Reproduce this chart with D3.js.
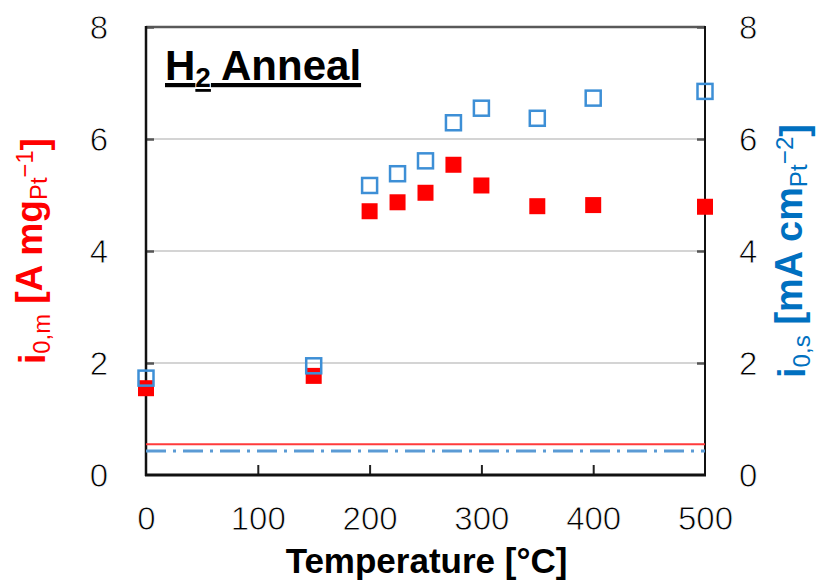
<!DOCTYPE html>
<html>
<head>
<meta charset="utf-8">
<script src="https://cdn.jsdelivr.net/npm/d3@7"></script>
<style>
  html, body { margin: 0; padding: 0; background: #fff; }
  svg { display: block; }
  text { font-family: "Liberation Sans", Arial, sans-serif; }
</style>
</head>
<body>
<svg id="chart" width="817" height="583"></svg>
<script>
// ---- data ----
const temperatures = [0, 150, 200, 225, 250, 275, 300, 350, 400, 500];
const massActivity = [1.55, 1.77, 4.71, 4.87, 5.04, 5.54, 5.17, 4.80, 4.82, 4.79];
const specificActivity = [1.73, 1.95, 5.17, 5.38, 5.61, 6.29, 6.55, 6.37, 6.73, 6.85];
const massBaseline = 0.55;
const specificBaseline = 0.43;
const xTicks = [0, 100, 200, 300, 400, 500];
const yTicks = [0, 2, 4, 6, 8];

const svg = d3.select("#chart");
const m = { left: 146, right: 705, top: 27, bottom: 475 };
const x = d3.scaleLinear().domain([0, 500]).range([m.left, m.right]);
const yL = d3.scaleLinear().domain([0, 8]).range([m.bottom, m.top]);
const yR = d3.scaleLinear().domain([0, 8]).range([m.bottom, m.top]);

const red = "#ff0000";
const blueMk = "#3d8fd6";
const blueLine = "#5b9bd5";
const blueLbl = "#0070c0";

// gridlines
svg.append("g").selectAll("line").data([2, 4, 6]).join("line")
  .attr("x1", m.left).attr("x2", m.right)
  .attr("y1", d => yL(d)).attr("y2", d => yL(d))
  .attr("stroke", "#d4d4d4").attr("stroke-width", 2);
// top border
svg.append("line").attr("x1", m.left).attr("x2", m.right)
  .attr("y1", yL(8)).attr("y2", yL(8)).attr("stroke", "#595959").attr("stroke-width", 2.5);

// axes
const leftAxis = d3.axisLeft(yL).tickValues(yTicks).tickSize(-8).tickPadding(38).tickFormat(d3.format("d"));
const gL = svg.append("g").attr("transform", `translate(${m.left},0)`).call(leftAxis);
const rightAxis = d3.axisRight(yR).tickValues(yTicks).tickSize(-8).tickPadding(34).tickFormat(d3.format("d"));
const gR = svg.append("g").attr("transform", `translate(${m.right},0)`).call(rightAxis);
const bottomAxis = d3.axisBottom(x).tickValues(xTicks).tickSize(-10).tickPadding(31).tickFormat(d3.format("d"));
const gB = svg.append("g").attr("transform", `translate(0,${m.bottom})`).call(bottomAxis);

[gL, gR, gB].forEach(g => {
  g.select(".domain").remove();
  g.selectAll(".tick text").attr("font-size", 33).attr("fill", "#000")
    .attr("font-family", "'Liberation Sans', Arial, sans-serif")
    .attr("stroke", "#fff").attr("stroke-width", 0.8);
});
gL.selectAll(".tick line").attr("stroke", "#555").attr("stroke-width", 2.5);
gR.selectAll(".tick line").attr("stroke", "#555").attr("stroke-width", 2.5);
gB.selectAll(".tick line").attr("stroke", "#222").attr("stroke-width", 2)
  .attr("display", d => (d === 0 || d === 500) ? "none" : null);
gL.selectAll(".tick line").attr("display", d => d === 0 ? "none" : null);
gR.selectAll(".tick line").attr("display", d => d === 0 ? "none" : null);
gL.selectAll(".tick text").attr("dy", "0.36em");
gR.selectAll(".tick text").attr("dy", "0.36em");
gB.selectAll(".tick text").attr("dy", "0.72em");

// axis lines
svg.append("line").attr("x1", m.left).attr("x2", m.left).attr("y1", m.top - 1).attr("y2", m.bottom + 1)
  .attr("stroke", "#111").attr("stroke-width", 2.5);
svg.append("line").attr("x1", m.right).attr("x2", m.right).attr("y1", m.top - 1).attr("y2", m.bottom + 1)
  .attr("stroke", "#111").attr("stroke-width", 2);
svg.append("line").attr("x1", m.left - 1).attr("x2", m.right + 1).attr("y1", m.bottom).attr("y2", m.bottom)
  .attr("stroke", "#111").attr("stroke-width", 3);

// baselines
svg.append("line").attr("x1", m.left).attr("x2", m.right)
  .attr("y1", yL(massBaseline)).attr("y2", yL(massBaseline))
  .attr("stroke", "#ff3b3b").attr("stroke-width", 2);
svg.append("line").attr("x1", m.left).attr("x2", m.right)
  .attr("y1", yR(specificBaseline)).attr("y2", yR(specificBaseline))
  .attr("stroke", blueLine).attr("stroke-width", 3).attr("stroke-dasharray", "20,7,3,7");

// markers
const pts = temperatures.map((t, i) => ({ t, m: massActivity[i], s: specificActivity[i] }));
const sz = 16;
svg.append("g").selectAll("rect").data(pts).join("rect")
  .attr("x", d => x(d.t) - sz / 2).attr("y", d => yL(d.m) - sz / 2)
  .attr("width", sz).attr("height", sz).attr("fill", red);
const sb = 15;
svg.append("g").selectAll("rect").data(pts).join("rect")
  .attr("x", d => x(d.t) - sb / 2).attr("y", d => yR(d.s) - sb / 2)
  .attr("width", sb).attr("height", sb).attr("fill", "none")
  .attr("stroke", blueMk).attr("stroke-width", 2.5);

// title
const title = svg.append("text").attr("x", 165).attr("y", 80)
  .attr("font-size", 42).attr("font-weight", "bold").attr("fill", "#000")
  .attr("text-decoration", "underline");
title.append("tspan").text("H");
title.append("tspan").attr("font-size", 28).attr("dy", 7).text("2");
title.append("tspan").attr("dy", -7).text(" Anneal");

// x axis title
svg.append("text").attr("x", (m.left + m.right) / 2 + 1).attr("y", 573)
  .attr("text-anchor", "middle").attr("font-size", 35).attr("font-weight", "bold")
  .attr("fill", "#000").text("Temperature [°C]");

// rotated axis titles
function axisTitle(tx, color, sub, main, unitSub, sup, targetLen) {
  const t = svg.append("text").attr("transform", `translate(${tx},${(m.top + m.bottom) / 2}) rotate(-90)`)
    .attr("text-anchor", "middle").attr("font-size", 33).attr("font-weight", "bold").attr("fill", color);
  t.append("tspan").text("i");
  t.append("tspan").attr("font-size", "0.64em").attr("font-weight", "normal").attr("dy", "0.21em").text(sub);
  t.append("tspan").attr("dy", "-0.21em").text(main);
  t.append("tspan").attr("font-size", "0.64em").attr("font-weight", "normal").attr("dy", "0.21em").text(unitSub);
  t.append("tspan").attr("font-size", "0.64em").attr("font-weight", "normal").attr("dy", "-0.6em").text(sup);
  t.append("tspan").attr("dy", "0.39em").text("]");
  const w = t.node().getBBox().width;
  t.attr("font-size", 33 * targetLen / w);
  return t;
}
axisTitle(45, red, "0,m", " [A mg", "Pt", "\u22121", 226);
axisTitle(805, blueLbl, "0,s", " [mA cm", "Pt", "\u22122", 254);
</script>
</body>
</html>
